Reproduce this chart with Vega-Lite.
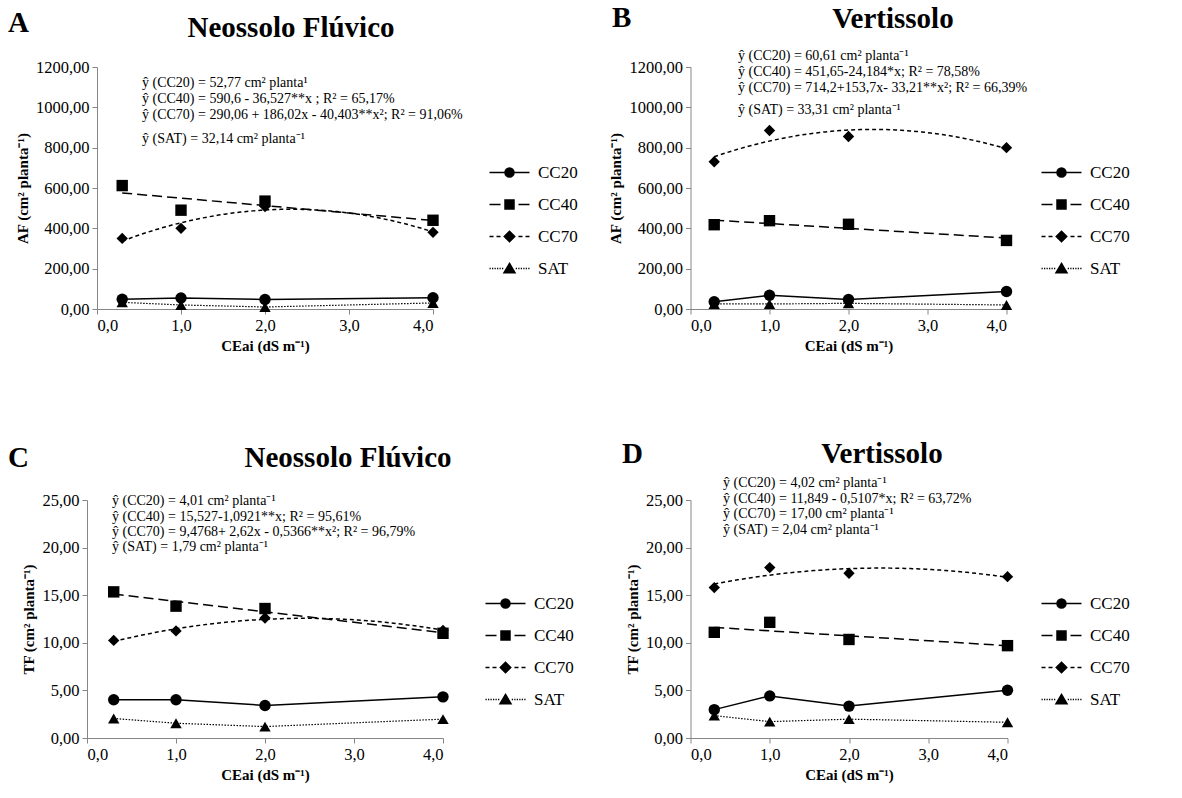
{
  "$schema": "https://vega.github.io/schema/vega-lite/v6.json",
  "autosize": {"type": "none"},
  "padding": {"left": 87, "top": 67, "right": 1095, "bottom": 731},
  "background": "white",
  "config": {
    "font": "Liberation Serif",
    "view": {"stroke": null},
    "style": {"guide-label": {"font": "Liberation Serif"}, "guide-title": {"font": "Liberation Serif"}},
    "axis": {"domainColor": "#868686", "tickColor": "#868686", "tickSize": 5, "grid": false, "labelFont": "Liberation Serif", "labelFontSize": 16.5, "labelColor": "black", "titleFont": "Liberation Serif", "titleFontSize": 15, "titleFontWeight": "bold", "titleColor": "black", "labelPadding": 3, "titlePadding": 5},
    "legend": {"labelFont": "Liberation Serif", "labelFontSize": 17, "labelColor": "black", "symbolSize": 100, "rowPadding": 14, "labelOffset": 20, "padding": 0},
    "text": {"font": "Liberation Serif", "color": "black"}
  },
  "datasets": {
    "A": [
      {"x": 0.3, "serie": "CC20", "v": 48}, {"x": 1, "serie": "CC20", "v": 55}, {"x": 2, "serie": "CC20", "v": 47}, {"x": 4, "serie": "CC20", "v": 56},
      {"x": 0.3, "serie": "CC40", "v": 612}, {"x": 1, "serie": "CC40", "v": 490}, {"x": 2, "serie": "CC40", "v": 535}, {"x": 4, "serie": "CC40", "v": 440},
      {"x": 0.3, "serie": "CC70", "v": 350}, {"x": 1, "serie": "CC70", "v": 400}, {"x": 2, "serie": "CC70", "v": 508}, {"x": 4, "serie": "CC70", "v": 380},
      {"x": 0.3, "serie": "SAT", "v": 33}, {"x": 1, "serie": "SAT", "v": 20}, {"x": 2, "serie": "SAT", "v": 10}, {"x": 4, "serie": "SAT", "v": 30}
    ],
    "B": [
      {"x": 0.3, "serie": "CC20", "v": 36}, {"x": 1, "serie": "CC20", "v": 68}, {"x": 2, "serie": "CC20", "v": 47}, {"x": 4, "serie": "CC20", "v": 87},
      {"x": 0.3, "serie": "CC40", "v": 418}, {"x": 1, "serie": "CC40", "v": 438}, {"x": 2, "serie": "CC40", "v": 420}, {"x": 4, "serie": "CC40", "v": 340},
      {"x": 0.3, "serie": "CC70", "v": 730}, {"x": 1, "serie": "CC70", "v": 885}, {"x": 2, "serie": "CC70", "v": 855}, {"x": 4, "serie": "CC70", "v": 800},
      {"x": 0.3, "serie": "SAT", "v": 25}, {"x": 1, "serie": "SAT", "v": 25}, {"x": 2, "serie": "SAT", "v": 28}, {"x": 4, "serie": "SAT", "v": 20}
    ],
    "C": [
      {"x": 0.3, "serie": "CC20", "v": 4.02}, {"x": 1, "serie": "CC20", "v": 4.02}, {"x": 2, "serie": "CC20", "v": 3.42}, {"x": 4, "serie": "CC20", "v": 4.32},
      {"x": 0.3, "serie": "CC40", "v": 15.35}, {"x": 1, "serie": "CC40", "v": 13.85}, {"x": 2, "serie": "CC40", "v": 13.6}, {"x": 4, "serie": "CC40", "v": 11.0},
      {"x": 0.3, "serie": "CC70", "v": 10.25}, {"x": 1, "serie": "CC70", "v": 11.25}, {"x": 2, "serie": "CC70", "v": 12.6}, {"x": 4, "serie": "CC70", "v": 11.3},
      {"x": 0.3, "serie": "SAT", "v": 2.05}, {"x": 1, "serie": "SAT", "v": 1.55}, {"x": 2, "serie": "SAT", "v": 1.2}, {"x": 4, "serie": "SAT", "v": 1.98}
    ],
    "D": [
      {"x": 0.3, "serie": "CC20", "v": 2.98}, {"x": 1, "serie": "CC20", "v": 4.42}, {"x": 2, "serie": "CC20", "v": 3.35}, {"x": 4, "serie": "CC20", "v": 5.02},
      {"x": 0.3, "serie": "CC40", "v": 11.1}, {"x": 1, "serie": "CC40", "v": 12.15}, {"x": 2, "serie": "CC40", "v": 10.35}, {"x": 4, "serie": "CC40", "v": 9.7},
      {"x": 0.3, "serie": "CC70", "v": 15.8}, {"x": 1, "serie": "CC70", "v": 17.9}, {"x": 2, "serie": "CC70", "v": 17.3}, {"x": 4, "serie": "CC70", "v": 16.95},
      {"x": 0.3, "serie": "SAT", "v": 2.35}, {"x": 1, "serie": "SAT", "v": 1.72}, {"x": 2, "serie": "SAT", "v": 1.98}, {"x": 4, "serie": "SAT", "v": 1.65}
    ]
  },
  "columns": 2,
  "align": "each",
  "center": true,
  "bounds": "flush",
  "spacing": {"column": 247.5, "row": 191},
  "resolve": {"scale": {"shape": "independent"}, "legend": {"shape": "independent"}},
  "concat": [
    {
      "width": 336, "height": 242,
      "resolve": {"scale": {"shape": "independent"}, "legend": {"shape": "independent"}},
      "layer": [
        {
          "data": {"name": "A"},
          "encoding": {
            "x": {"field": "x", "type": "quantitative", "scale": {"domain": [0, 4]}, "axis": {"values": [0, 1, 2, 3, 4], "title": "CEai (dS m⁻¹)", "labelFont": "Liberation Serif", "labelExpr": "replace(format(datum.value, '.1f'), '.', ',')"}},
            "y": {"field": "v", "type": "quantitative", "scale": {"domain": [0, 1200]}, "axis": {"values": [0, 200, 400, 600, 800, 1000, 1200], "title": "AF (cm² planta⁻¹)", "labelFont": "Liberation Serif", "labelExpr": "replace(format(datum.value, '.2f'), '.', ',')"}}
          },
          "resolve": {"scale": {"shape": "independent"}, "legend": {"shape": "independent"}},
          "layer": [
            {"transform": [{"filter": "datum.serie == 'CC20'"}], "mark": {"type": "line", "color": "black", "strokeWidth": 1.5}},
            {"transform": [{"filter": "datum.serie == 'SAT'"}], "mark": {"type": "line", "color": "black", "strokeWidth": 1.2, "strokeDash": [1.5, 1.5]}},
            {"transform": [{"filter": "datum.serie == 'CC40'"}, {"regression": "v", "on": "x", "extent": [0.3, 4]}], "mark": {"type": "line", "color": "black", "strokeWidth": 1.5, "strokeDash": [10, 5]}},
            {"transform": [{"filter": "datum.serie == 'CC70'"}, {"regression": "v", "on": "x", "method": "poly", "order": 2, "extent": [0.3, 4]}], "mark": {"type": "line", "color": "black", "strokeWidth": 1.5, "strokeDash": [4, 3]}},
            {"mark": {"type": "point", "filled": true, "color": "black", "size": 130, "opacity": 1}, "encoding": {"shape": {"field": "serie", "type": "nominal", "scale": {"domain": ["CC20", "CC40", "CC70", "SAT"], "range": ["circle", "square", "diamond", "triangle-up"]}, "legend": null}}},
            {"transform": [{"filter": "false"}], "mark": {"type": "point", "filled": true, "color": "black", "stroke": "black", "strokeWidth": 1, "opacity": 1},
             "encoding": {"shape": {"field": "serie", "type": "nominal", "scale": {"domain": ["CC20", "CC40", "CC70", "SAT"], "range": ["M-4,0H4M0.9,0A0.9,0.9 0 1,1 -0.9,0A0.9,0.9 0 1,1 0.9,0Z", "M-4,0H-1.8M1.8,0H4M-0.9,-0.9H0.9V0.9H-0.9Z", "M-4,0H-3.2M-2.6,0H-1.8M1.8,0H2.6M3.2,0H4M0,-1.05L1.05,0L0,1.05L-1.05,0Z", "M-4,0H-3.75M-3.5,0H-3.25M-3,0H-2.75M-2.5,0H-2.25M-2,0H-1.75M-1.5,0H-1.25M1.25,0H1.5M1.75,0H2M2.25,0H2.5M2.75,0H3M3.25,0H3.5M3.75,0H4M0,-1L1.1,0.85H-1.1Z"]}, "legend": {"title": null, "orient": "none", "legendX": 404, "legendY": 97, "labelFont": "Liberation Serif"}}}}
          ]
        },
        {"data": {"values": [{"t": "A"}]}, "mark": {"type": "text", "fontSize": 29, "fontWeight": "bold", "align": "left", "baseline": "alphabetic"}, "encoding": {"text": {"field": "t", "type": "nominal"}, "x": {"datum": -1.06, "scale": {"domain": [0, 4]}}, "y": {"datum": 1374, "scale": {"domain": [0, 1200]}}}},
        {"data": {"values": [{"t": "Neossolo Flúvico"}]}, "mark": {"type": "text", "fontSize": 29, "fontWeight": "bold", "align": "center", "baseline": "alphabetic"}, "encoding": {"text": {"field": "t", "type": "nominal"}, "x": {"datum": 2.31, "scale": {"domain": [0, 4]}}, "y": {"datum": 1351, "scale": {"domain": [0, 1200]}}}},
        {"data": {"values": [{"t": "ŷ (CC20) = 52,77 cm² planta¹"}]}, "mark": {"type": "text", "fontSize": 14, "align": "left", "baseline": "middle", "dy": -16}, "encoding": {"text": {"field": "t", "type": "nominal"}, "x": {"datum": 0.536, "scale": {"domain": [0, 4]}}, "y": {"datum": 1041, "scale": {"domain": [0, 1200]}}}},
        {"data": {"values": [{"t": "ŷ (CC40) = 590,6 - 36,527**x ; R² = 65,17%"}]}, "mark": {"type": "text", "fontSize": 14, "align": "left", "baseline": "middle"}, "encoding": {"text": {"field": "t", "type": "nominal"}, "x": {"datum": 0.536, "scale": {"domain": [0, 4]}}, "y": {"datum": 1041, "scale": {"domain": [0, 1200]}}}},
        {"data": {"values": [{"t": "ŷ (CC70) = 290,06 + 186,02x - 40,403**x²; R² = 91,06%"}]}, "mark": {"type": "text", "fontSize": 14, "align": "left", "baseline": "middle", "dy": 16}, "encoding": {"text": {"field": "t", "type": "nominal"}, "x": {"datum": 0.536, "scale": {"domain": [0, 4]}}, "y": {"datum": 1041, "scale": {"domain": [0, 1200]}}}},
        {"data": {"values": [{"t": "ŷ  (SAT) = 32,14  cm² planta⁻¹"}]}, "mark": {"type": "text", "fontSize": 14, "align": "left", "baseline": "middle"}, "encoding": {"text": {"field": "t", "type": "nominal"}, "x": {"datum": 0.536, "scale": {"domain": [0, 4]}}, "y": {"datum": 843, "scale": {"domain": [0, 1200]}}}}
      ]
    },
    {
      "width": 316, "height": 242,
      "resolve": {"scale": {"shape": "independent"}, "legend": {"shape": "independent"}},
      "layer": [
        {
          "data": {"name": "B"},
          "encoding": {
            "x": {"field": "x", "type": "quantitative", "scale": {"domain": [0, 4]}, "axis": {"values": [0, 1, 2, 3, 4], "title": "CEai (dS m⁻¹)", "labelFont": "Liberation Serif", "labelExpr": "replace(format(datum.value, '.1f'), '.', ',')"}},
            "y": {"field": "v", "type": "quantitative", "scale": {"domain": [0, 1200]}, "axis": {"values": [0, 200, 400, 600, 800, 1000, 1200], "title": "AF (cm² planta⁻¹)", "labelFont": "Liberation Serif", "labelExpr": "replace(format(datum.value, '.2f'), '.', ',')"}}
          },
          "resolve": {"scale": {"shape": "independent"}, "legend": {"shape": "independent"}},
          "layer": [
            {"transform": [{"filter": "datum.serie == 'CC20'"}], "mark": {"type": "line", "color": "black", "strokeWidth": 1.5}},
            {"transform": [{"filter": "datum.serie == 'SAT'"}], "mark": {"type": "line", "color": "black", "strokeWidth": 1.2, "strokeDash": [1.5, 1.5]}},
            {"transform": [{"filter": "datum.serie == 'CC40'"}, {"regression": "v", "on": "x", "extent": [0.3, 4]}], "mark": {"type": "line", "color": "black", "strokeWidth": 1.5, "strokeDash": [10, 5]}},
            {"transform": [{"filter": "datum.serie == 'CC70'"}, {"regression": "v", "on": "x", "method": "poly", "order": 2, "extent": [0.3, 4]}], "mark": {"type": "line", "color": "black", "strokeWidth": 1.5, "strokeDash": [4, 3]}},
            {"mark": {"type": "point", "filled": true, "color": "black", "size": 130, "opacity": 1}, "encoding": {"shape": {"field": "serie", "type": "nominal", "scale": {"domain": ["CC20", "CC40", "CC70", "SAT"], "range": ["circle", "square", "diamond", "triangle-up"]}, "legend": null}}},
            {"transform": [{"filter": "false"}], "mark": {"type": "point", "filled": true, "color": "black", "stroke": "black", "strokeWidth": 1, "opacity": 1},
             "encoding": {"shape": {"field": "serie", "type": "nominal", "scale": {"domain": ["CC20", "CC40", "CC70", "SAT"], "range": ["M-4,0H4M0.9,0A0.9,0.9 0 1,1 -0.9,0A0.9,0.9 0 1,1 0.9,0Z", "M-4,0H-1.8M1.8,0H4M-0.9,-0.9H0.9V0.9H-0.9Z", "M-4,0H-3.2M-2.6,0H-1.8M1.8,0H2.6M3.2,0H4M0,-1.05L1.05,0L0,1.05L-1.05,0Z", "M-4,0H-3.75M-3.5,0H-3.25M-3,0H-2.75M-2.5,0H-2.25M-2,0H-1.75M-1.5,0H-1.25M1.25,0H1.5M1.75,0H2M2.25,0H2.5M2.75,0H3M3.25,0H3.5M3.75,0H4M0,-1L1.1,0.85H-1.1Z"]}, "legend": {"title": null, "orient": "none", "legendX": 362.5, "legendY": 97, "labelFont": "Liberation Serif"}}}}
          ]
        },
        {"data": {"values": [{"t": "B"}]}, "mark": {"type": "text", "fontSize": 29, "fontWeight": "bold", "align": "left", "baseline": "alphabetic"}, "encoding": {"text": {"field": "t", "type": "nominal"}, "x": {"datum": -0.994, "scale": {"domain": [0, 4]}}, "y": {"datum": 1398, "scale": {"domain": [0, 1200]}}}},
        {"data": {"values": [{"t": "Vertissolo"}]}, "mark": {"type": "text", "fontSize": 29, "fontWeight": "bold", "align": "center", "baseline": "alphabetic"}, "encoding": {"text": {"field": "t", "type": "nominal"}, "x": {"datum": 2.563, "scale": {"domain": [0, 4]}}, "y": {"datum": 1393, "scale": {"domain": [0, 1200]}}}},
        {"data": {"values": [{"t": "ŷ (CC20) = 60,61  cm² planta⁻¹"}]}, "mark": {"type": "text", "fontSize": 14, "align": "left", "baseline": "middle", "dy": -16}, "encoding": {"text": {"field": "t", "type": "nominal"}, "x": {"datum": 0.601, "scale": {"domain": [0, 4]}}, "y": {"datum": 1175, "scale": {"domain": [0, 1200]}}}},
        {"data": {"values": [{"t": "ŷ (CC40) = 451,65-24,184*x; R² = 78,58%"}]}, "mark": {"type": "text", "fontSize": 14, "align": "left", "baseline": "middle"}, "encoding": {"text": {"field": "t", "type": "nominal"}, "x": {"datum": 0.601, "scale": {"domain": [0, 4]}}, "y": {"datum": 1175, "scale": {"domain": [0, 1200]}}}},
        {"data": {"values": [{"t": "ŷ (CC70) = 714,2+153,7x- 33,21**x²; R² = 66,39%"}]}, "mark": {"type": "text", "fontSize": 14, "align": "left", "baseline": "middle", "dy": 16}, "encoding": {"text": {"field": "t", "type": "nominal"}, "x": {"datum": 0.601, "scale": {"domain": [0, 4]}}, "y": {"datum": 1175, "scale": {"domain": [0, 1200]}}}},
        {"data": {"values": [{"t": "ŷ  (SAT) = 33,31  cm² planta⁻¹"}]}, "mark": {"type": "text", "fontSize": 14, "align": "left", "baseline": "middle"}, "encoding": {"text": {"field": "t", "type": "nominal"}, "x": {"datum": 0.601, "scale": {"domain": [0, 4]}}, "y": {"datum": 987, "scale": {"domain": [0, 1200]}}}}
      ]
    },
    {
      "width": 356, "height": 238,
      "resolve": {"scale": {"shape": "independent"}, "legend": {"shape": "independent"}},
      "layer": [
        {
          "data": {"name": "C"},
          "encoding": {
            "x": {"field": "x", "type": "quantitative", "scale": {"domain": [0, 4]}, "axis": {"values": [0, 1, 2, 3, 4], "title": "CEai (dS m⁻¹)", "labelFont": "Liberation Serif", "labelExpr": "replace(format(datum.value, '.1f'), '.', ',')"}},
            "y": {"field": "v", "type": "quantitative", "scale": {"domain": [0, 25]}, "axis": {"values": [0, 5, 10, 15, 20, 25], "title": "TF (cm² planta⁻¹)", "labelFont": "Liberation Serif", "labelExpr": "replace(format(datum.value, '.2f'), '.', ',')"}}
          },
          "resolve": {"scale": {"shape": "independent"}, "legend": {"shape": "independent"}},
          "layer": [
            {"transform": [{"filter": "datum.serie == 'CC20'"}], "mark": {"type": "line", "color": "black", "strokeWidth": 1.5}},
            {"transform": [{"filter": "datum.serie == 'SAT'"}], "mark": {"type": "line", "color": "black", "strokeWidth": 1.2, "strokeDash": [1.5, 1.5]}},
            {"transform": [{"filter": "datum.serie == 'CC40'"}, {"regression": "v", "on": "x", "extent": [0.3, 4]}], "mark": {"type": "line", "color": "black", "strokeWidth": 1.5, "strokeDash": [10, 5]}},
            {"transform": [{"filter": "datum.serie == 'CC70'"}, {"regression": "v", "on": "x", "method": "poly", "order": 2, "extent": [0.3, 4]}], "mark": {"type": "line", "color": "black", "strokeWidth": 1.5, "strokeDash": [4, 3]}},
            {"mark": {"type": "point", "filled": true, "color": "black", "size": 130, "opacity": 1}, "encoding": {"shape": {"field": "serie", "type": "nominal", "scale": {"domain": ["CC20", "CC40", "CC70", "SAT"], "range": ["circle", "square", "diamond", "triangle-up"]}, "legend": null}}},
            {"transform": [{"filter": "false"}], "mark": {"type": "point", "filled": true, "color": "black", "stroke": "black", "strokeWidth": 1, "opacity": 1},
             "encoding": {"shape": {"field": "serie", "type": "nominal", "scale": {"domain": ["CC20", "CC40", "CC70", "SAT"], "range": ["M-4,0H4M0.9,0A0.9,0.9 0 1,1 -0.9,0A0.9,0.9 0 1,1 0.9,0Z", "M-4,0H-1.8M1.8,0H4M-0.9,-0.9H0.9V0.9H-0.9Z", "M-4,0H-3.2M-2.6,0H-1.8M1.8,0H2.6M3.2,0H4M0,-1.05L1.05,0L0,1.05L-1.05,0Z", "M-4,0H-3.75M-3.5,0H-3.25M-3,0H-2.75M-2.5,0H-2.25M-2,0H-1.75M-1.5,0H-1.25M1.25,0H1.5M1.75,0H2M2.25,0H2.5M2.75,0H3M3.25,0H3.5M3.75,0H4M0,-1L1.1,0.85H-1.1Z"]}, "legend": {"title": null, "orient": "none", "legendX": 410, "legendY": 95, "labelFont": "Liberation Serif"}}}}
          ]
        },
        {"data": {"values": [{"t": "C"}]}, "mark": {"type": "text", "fontSize": 29, "fontWeight": "bold", "align": "left", "baseline": "alphabetic"}, "encoding": {"text": {"field": "t", "type": "nominal"}, "x": {"datum": -0.888, "scale": {"domain": [0, 4]}}, "y": {"datum": 28.47, "scale": {"domain": [0, 25]}}}},
        {"data": {"values": [{"t": "Neossolo Flúvico"}]}, "mark": {"type": "text", "fontSize": 29, "fontWeight": "bold", "align": "center", "baseline": "alphabetic"}, "encoding": {"text": {"field": "t", "type": "nominal"}, "x": {"datum": 2.933, "scale": {"domain": [0, 4]}}, "y": {"datum": 28.47, "scale": {"domain": [0, 25]}}}},
        {"data": {"values": [{"t": "ŷ (CC20) = 4,01 cm² planta⁻¹"}]}, "mark": {"type": "text", "fontSize": 14, "align": "left", "baseline": "middle", "dy": -23}, "encoding": {"text": {"field": "t", "type": "nominal"}, "x": {"datum": 0.281, "scale": {"domain": [0, 4]}}, "y": {"datum": 22.45, "scale": {"domain": [0, 25]}}}},
        {"data": {"values": [{"t": "ŷ (CC40) = 15,527-1,0921**x; R² = 95,61%"}]}, "mark": {"type": "text", "fontSize": 14, "align": "left", "baseline": "middle", "dy": -7.7}, "encoding": {"text": {"field": "t", "type": "nominal"}, "x": {"datum": 0.281, "scale": {"domain": [0, 4]}}, "y": {"datum": 22.45, "scale": {"domain": [0, 25]}}}},
        {"data": {"values": [{"t": "ŷ (CC70) = 9,4768+ 2,62x - 0,5366**x²; R² = 96,79%"}]}, "mark": {"type": "text", "fontSize": 14, "align": "left", "baseline": "middle", "dy": 7.7}, "encoding": {"text": {"field": "t", "type": "nominal"}, "x": {"datum": 0.281, "scale": {"domain": [0, 4]}}, "y": {"datum": 22.45, "scale": {"domain": [0, 25]}}}},
        {"data": {"values": [{"t": "ŷ  (SAT) = 1,79 cm² planta⁻¹"}]}, "mark": {"type": "text", "fontSize": 14, "align": "left", "baseline": "middle", "dy": 23}, "encoding": {"text": {"field": "t", "type": "nominal"}, "x": {"datum": 0.281, "scale": {"domain": [0, 4]}}, "y": {"datum": 22.45, "scale": {"domain": [0, 25]}}}}
      ]
    },
    {
      "width": 317, "height": 238,
      "resolve": {"scale": {"shape": "independent"}, "legend": {"shape": "independent"}},
      "layer": [
        {
          "data": {"name": "D"},
          "encoding": {
            "x": {"field": "x", "type": "quantitative", "scale": {"domain": [0, 4]}, "axis": {"values": [0, 1, 2, 3, 4], "title": "CEai (dS m⁻¹)", "labelFont": "Liberation Serif", "labelExpr": "replace(format(datum.value, '.1f'), '.', ',')"}},
            "y": {"field": "v", "type": "quantitative", "scale": {"domain": [0, 25]}, "axis": {"values": [0, 5, 10, 15, 20, 25], "title": "TF (cm² planta⁻¹)", "labelFont": "Liberation Serif", "labelExpr": "replace(format(datum.value, '.2f'), '.', ',')"}}
          },
          "resolve": {"scale": {"shape": "independent"}, "legend": {"shape": "independent"}},
          "layer": [
            {"transform": [{"filter": "datum.serie == 'CC20'"}], "mark": {"type": "line", "color": "black", "strokeWidth": 1.5}},
            {"transform": [{"filter": "datum.serie == 'SAT'"}], "mark": {"type": "line", "color": "black", "strokeWidth": 1.2, "strokeDash": [1.5, 1.5]}},
            {"transform": [{"filter": "datum.serie == 'CC40'"}, {"regression": "v", "on": "x", "extent": [0.3, 4]}], "mark": {"type": "line", "color": "black", "strokeWidth": 1.5, "strokeDash": [10, 5]}},
            {"transform": [{"filter": "datum.serie == 'CC70'"}, {"regression": "v", "on": "x", "method": "poly", "order": 2, "extent": [0.3, 4]}], "mark": {"type": "line", "color": "black", "strokeWidth": 1.5, "strokeDash": [4, 3]}},
            {"mark": {"type": "point", "filled": true, "color": "black", "size": 130, "opacity": 1}, "encoding": {"shape": {"field": "serie", "type": "nominal", "scale": {"domain": ["CC20", "CC40", "CC70", "SAT"], "range": ["circle", "square", "diamond", "triangle-up"]}, "legend": null}}},
            {"transform": [{"filter": "false"}], "mark": {"type": "point", "filled": true, "color": "black", "stroke": "black", "strokeWidth": 1, "opacity": 1},
             "encoding": {"shape": {"field": "serie", "type": "nominal", "scale": {"domain": ["CC20", "CC40", "CC70", "SAT"], "range": ["M-4,0H4M0.9,0A0.9,0.9 0 1,1 -0.9,0A0.9,0.9 0 1,1 0.9,0Z", "M-4,0H-1.8M1.8,0H4M-0.9,-0.9H0.9V0.9H-0.9Z", "M-4,0H-3.2M-2.6,0H-1.8M1.8,0H2.6M3.2,0H4M0,-1.05L1.05,0L0,1.05L-1.05,0Z", "M-4,0H-3.75M-3.5,0H-3.25M-3,0H-2.75M-2.5,0H-2.25M-2,0H-1.75M-1.5,0H-1.25M1.25,0H1.5M1.75,0H2M2.25,0H2.5M2.75,0H3M3.25,0H3.5M3.75,0H4M0,-1L1.1,0.85H-1.1Z"]}, "legend": {"title": null, "orient": "none", "legendX": 362.5, "legendY": 95, "labelFont": "Liberation Serif"}}}}
          ]
        },
        {"data": {"values": [{"t": "D"}]}, "mark": {"type": "text", "fontSize": 29, "fontWeight": "bold", "align": "left", "baseline": "alphabetic"}, "encoding": {"text": {"field": "t", "type": "nominal"}, "x": {"datum": -0.864, "scale": {"domain": [0, 4]}}, "y": {"datum": 28.89, "scale": {"domain": [0, 25]}}}},
        {"data": {"values": [{"t": "Vertissolo"}]}, "mark": {"type": "text", "fontSize": 29, "fontWeight": "bold", "align": "center", "baseline": "alphabetic"}, "encoding": {"text": {"field": "t", "type": "nominal"}, "x": {"datum": 2.416, "scale": {"domain": [0, 4]}}, "y": {"datum": 28.89, "scale": {"domain": [0, 25]}}}},
        {"data": {"values": [{"t": "ŷ (CC20) = 4,02 cm² planta⁻¹"}]}, "mark": {"type": "text", "fontSize": 14, "align": "left", "baseline": "middle", "dy": -23.5}, "encoding": {"text": {"field": "t", "type": "nominal"}, "x": {"datum": 0.41, "scale": {"domain": [0, 4]}}, "y": {"datum": 24.3, "scale": {"domain": [0, 25]}}}},
        {"data": {"values": [{"t": "ŷ (CC40) = 11,849 - 0,5107*x; R² = 63,72%"}]}, "mark": {"type": "text", "fontSize": 14, "align": "left", "baseline": "middle", "dy": -7.8}, "encoding": {"text": {"field": "t", "type": "nominal"}, "x": {"datum": 0.41, "scale": {"domain": [0, 4]}}, "y": {"datum": 24.3, "scale": {"domain": [0, 25]}}}},
        {"data": {"values": [{"t": "ŷ (CC70) =  17,00 cm² planta⁻¹"}]}, "mark": {"type": "text", "fontSize": 14, "align": "left", "baseline": "middle", "dy": 7.8}, "encoding": {"text": {"field": "t", "type": "nominal"}, "x": {"datum": 0.41, "scale": {"domain": [0, 4]}}, "y": {"datum": 24.3, "scale": {"domain": [0, 25]}}}},
        {"data": {"values": [{"t": "ŷ  (SAT) = 2,04 cm² planta⁻¹"}]}, "mark": {"type": "text", "fontSize": 14, "align": "left", "baseline": "middle", "dy": 23.5}, "encoding": {"text": {"field": "t", "type": "nominal"}, "x": {"datum": 0.41, "scale": {"domain": [0, 4]}}, "y": {"datum": 24.3, "scale": {"domain": [0, 25]}}}}
      ]
    }
  ]
}
